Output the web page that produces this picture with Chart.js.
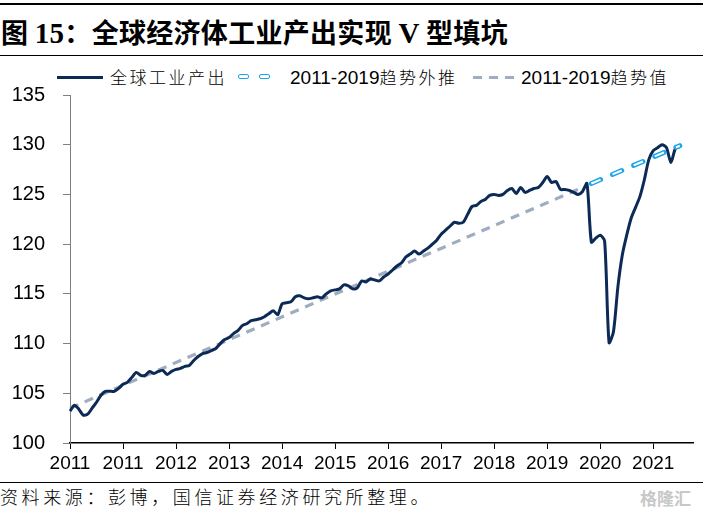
<!DOCTYPE html>
<html>
<head>
<meta charset="utf-8">
<script src="https://cdn.jsdelivr.net/npm/chart.js@4/dist/chart.umd.min.js"></script>
<style>
  html, body { margin:0; padding:0; background:#fff; }
  #wrap { position:relative; width:703px; height:512px; overflow:hidden; background:#fff; }
  .hline { position:absolute; left:0; width:703px; background:#000; }
  #title { position:absolute; left:1px; top:16px; font-size:27px; font-weight:bold; color:#000; white-space:nowrap;
           font-family:"Noto Sans CJK SC", sans-serif; line-height:32px; letter-spacing:0.3px; }
  #title .lat { font-family:"Liberation Serif", "Times New Roman", serif; font-weight:bold; font-size:29px; }
  .lg { position:absolute; top:66px; font-size:17px; line-height:22px; color:#000; white-space:nowrap;
        font-family:"Liberation Sans Narrow", "Arial Narrow", "Noto Sans CJK SC", sans-serif; }
  .lg .cj { font-family:"Noto Sans CJK SC", sans-serif; font-weight:300; letter-spacing:2.5px; }
  .lg .num { font-size:19px; font-family:"Liberation Sans", Arial, sans-serif; }
  .sw { position:absolute; }
  #foot { position:absolute; left:0; top:484px; font-size:18px; line-height:24px; letter-spacing:3.6px; color:#000;
          font-family:"Noto Sans CJK SC", sans-serif; font-weight:300; white-space:nowrap; }
  #wm { position:absolute; left:640px; top:485px; font-size:17px; color:#c8c8c8; font-weight:bold;
        font-family:"Noto Sans CJK SC", sans-serif; }
  canvas { position:absolute; left:0; top:65px; }
</style>
</head>
<body>
<div id="wrap">
  <div class="hline" style="top:3px;height:2px;"></div>
  <div id="title">图 <span class="lat">15</span>：全球经济体工业产出实现 <span class="lat">V</span> 型填坑</div>
  <div class="hline" style="top:55px;height:1px;"></div>

  <!-- legend -->
  <div class="sw" style="left:57px;top:76px;width:46px;height:3px;background:#0c2a55;"></div>
  <div class="lg" style="left:110px;"><span class="cj">全球工业产出</span></div>
  <div class="sw" style="left:238px;top:74px;width:9px;height:3px;border:1.6px solid #1ca6ea;border-radius:2px;"></div>
  <div class="sw" style="left:259px;top:74px;width:9px;height:3px;border:1.6px solid #1ca6ea;border-radius:2px;"></div>
  <div class="lg" style="left:290px;"><span class="num">2011-2019</span><span class="cj">趋势外推</span></div>
  <div class="sw" style="left:473px;top:76px;width:9px;height:3px;background:#9eadbf;"></div>
  <div class="sw" style="left:489px;top:76px;width:9px;height:3px;background:#9eadbf;"></div>
  <div class="sw" style="left:505px;top:76px;width:9px;height:3px;background:#9eadbf;"></div>
  <div class="lg" style="left:521px;"><span class="num">2011-2019</span><span class="cj">趋势值</span></div>

  <canvas id="c" width="703" height="417"></canvas>

  <div class="hline" style="top:482px;height:1px;"></div>
  <div id="foot">资料来源：彭博，国信证券经济研究所整理。</div>
  <div id="wm">格隆汇</div>
</div>
<script>
// ---- data ----
const yearTickLabels = ['2011','2011','2012','2013','2014','2015','2016','2017','2018','2019','2020','2021'];
const monthsPerTick = 12;
const categoryCount = 142;

const industrialOutput = [
  103.2,103.8,103.4,102.8,102.9,103.5,104.1,104.8,105.2,105.2,
  105.2,105.5,105.9,106.1,106.6,107.1,106.8,106.8,107.2,107.0,
  107.2,107.3,106.9,107.2,107.4,107.5,107.7,107.8,108.3,108.7,
  109.0,109.1,109.3,109.5,110.0,110.4,110.6,111.0,111.3,111.8,
  112.0,112.3,112.4,112.5,112.7,113.0,113.3,112.9,114.0,114.1,
  114.2,114.7,114.8,114.6,114.5,114.6,114.7,114.6,115.0,115.3,
  115.4,115.5,115.9,115.8,115.5,115.6,116.3,116.2,116.5,116.4,
  116.3,116.7,117.0,117.4,117.8,118.1,118.7,119.0,119.3,119.0,
  119.3,119.6,120.0,120.4,121.0,121.4,121.8,122.2,122.1,122.2,
  123.0,123.8,123.9,124.3,124.5,124.9,125.0,124.9,125.0,125.4,
  125.6,125.1,125.7,125.2,125.4,125.6,125.7,126.2,126.8,126.2,
  126.3,125.5,125.5,125.4,125.2,125.0,125.3,126.1,120.2,120.6,
  120.9,120.3,110.1,111.2,115.7,118.9,120.9,122.6,123.7,124.8,
  126.5,128.5,129.4,129.7,130.0,129.7,128.2,129.6,129.8
];
// straight trend lines: [category index, value] end points
const trendFitEnds    = [[0, 103.5], [116, 125.7]];
const trendExtrapEnds = [[118, 126.1], [138, 129.9]];

// ---- build ----
const labels = [];
for (let i = 0; i < categoryCount; i++) labels.push('m' + i);
const toPts = ends => ends.map(([i, v]) => ({ x: labels[i], y: v }));

const axisFont = '"Liberation Sans Narrow", "Arial Narrow", "Liberation Sans", sans-serif';

new Chart(document.getElementById('c'), {
  type: 'line',
  data: {
    labels: labels,
    datasets: [
      { label: 'extrap-inner', data: toPts(trendExtrapEnds), borderColor: '#ffffff', borderWidth: 2,
        borderDash: [10, 13], borderCapStyle: 'butt', pointRadius: 0, fill: false, tension: 0 },
      { label: '2011-2019趋势外推', data: toPts(trendExtrapEnds), borderColor: '#1ca6ea', borderWidth: 5,
        borderDash: [10, 13], borderCapStyle: 'round', pointRadius: 0, fill: false, tension: 0 },
      { label: '全球工业产出', data: industrialOutput, borderColor: '#0c2a55', borderWidth: 3,
        pointRadius: 0, fill: false, tension: 0.25, borderJoinStyle: 'round' },
      { label: '2011-2019趋势值', data: toPts(trendFitEnds), borderColor: '#9eadbf', borderWidth: 3.2,
        borderDash: [9, 7], pointRadius: 0, fill: false, tension: 0 }
    ]
  },
  options: {
    responsive: false,
    animation: false,
    devicePixelRatio: 1,
    layout: { padding: { top: 10, right: 10, left: 0, bottom: 0 } },
    plugins: { legend: { display: false }, tooltip: { enabled: false } },
    scales: {
      x: {
        type: 'category',
        offset: false,
        afterBuildTicks: axis => { axis.ticks = axis.ticks.filter(t => t.value % monthsPerTick === 0); },
        afterFit: axis => { axis.height = 39; },
        ticks: {
          autoSkip: false, maxRotation: 0, minRotation: 0, padding: 3,
          color: '#000', font: { family: axisFont, size: 19 },
          callback: v => (v % monthsPerTick === 0 ? yearTickLabels[v / monthsPerTick] : '')
        },
        grid: { drawOnChartArea: false, drawTicks: true, tickLength: 6, color: '#000', lineWidth: 1 },
        border: { display: true, color: '#000', width: 1.5 }
      },
      y: {
        min: 100, max: 135,
        afterFit: axis => { axis.width = 70; },
        ticks: { stepSize: 5, padding: 18, color: '#000', font: { family: axisFont, size: 20 } },
        grid: { drawOnChartArea: false, drawTicks: true, tickLength: 7, color: '#808080', lineWidth: 1 },
        border: { display: true, color: '#808080', width: 1 }
      }
    }
  }
});
</script>
</body>
</html>
